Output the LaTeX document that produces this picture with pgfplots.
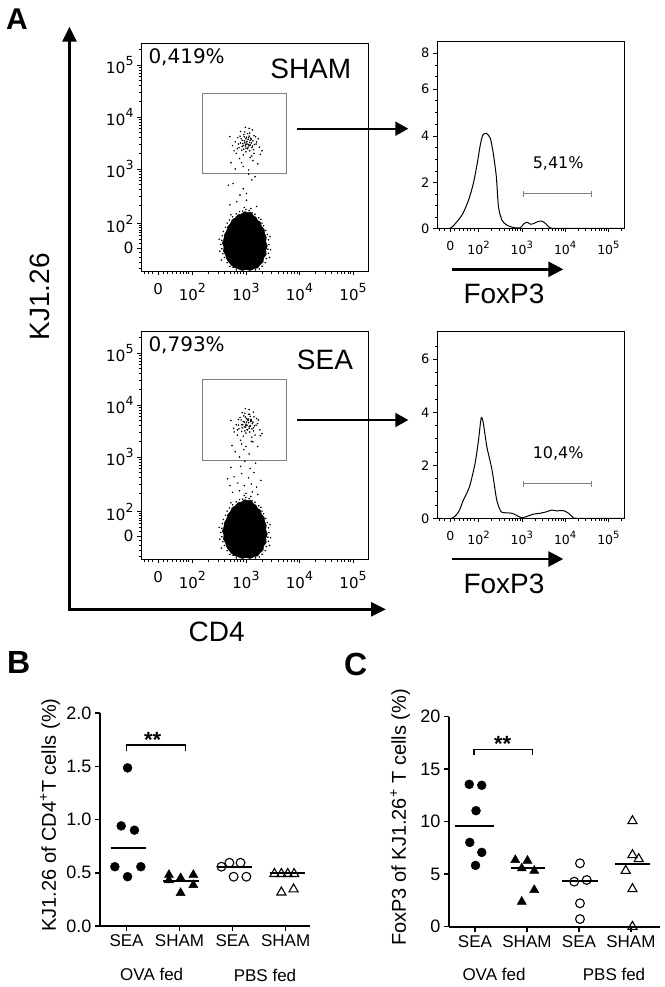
\documentclass[border=0pt]{standalone}
\usepackage{fontspec}
\setmainfont{Liberation Sans}
\newfontfamily\dejavu{DejaVu Sans}
\usepackage{pgfplots}
\pgfplotsset{compat=1.18}
\usetikzlibrary{arrows.meta}
\newcommand\fs[1]{\fontsize{#1}{#1}\selectfont}
\newcommand\tp[1]{10\raisebox{0.5em}{\fs{12.5}#1}}
\newcommand\hp[1]{10\raisebox{0.5em}{\fs{10}#1}}

\pgfplotstableread{
x y
2.98 2.18
3.03 2.16
3.09 2.17
3.13 2.11
3.19 2.07
3.22 2.01
3.27 1.98
3.29 1.90
3.34 1.84
3.35 1.76
3.38 1.69
3.37 1.60
3.40 1.52
3.37 1.44
3.38 1.36
3.33 1.29
3.32 1.21
3.26 1.16
3.22 1.10
3.14 1.08
3.08 1.05
3.00 1.07
2.93 1.05
2.86 1.08
2.80 1.10
2.73 1.15
2.69 1.20
2.64 1.27
2.62 1.35
2.58 1.42
2.59 1.50
2.56 1.58
2.59 1.66
2.60 1.74
2.64 1.81
2.66 1.89
2.71 1.95
2.74 2.02
2.80 2.06
2.85 2.12
2.91 2.13
}\blob

\pgfplotstableread{
x y
3.00 2.22
3.06 2.20
2.94 2.19
3.12 2.16
3.17 2.13
3.24 2.06
3.30 1.96
3.33 1.91
3.37 1.82
3.40 1.74
3.42 1.64
3.43 1.55
3.41 1.46
3.42 1.38
3.38 1.28
3.36 1.20
3.30 1.13
3.25 1.08
3.18 1.06
2.82 1.06
2.76 1.11
2.70 1.13
2.65 1.20
2.60 1.30
2.57 1.37
2.55 1.47
2.53 1.55
2.55 1.63
2.56 1.72
2.58 1.80
2.62 1.88
2.65 1.96
2.69 2.02
2.75 2.08
2.82 2.14
2.88 2.18
2.51 1.42
2.50 1.65
3.45 1.70
3.46 1.45
2.72 2.12
3.28 2.03
2.97 2.26
3.09 2.24
2.54 1.25
3.44 1.30
}\fringe

\pgfplotsset{
  flowdot/.style={scale only axis, width=227pt, height=228pt, anchor=south west,
    xmin=1.04, xmax=5.28, ymin=1.04, ymax=5.42,
    tick pos=left, tick align=outside, major tick length=4pt, minor tick length=2.5pt,
    every tick/.style={black, line width=0.6pt},
    axis line style={line width=0.9pt, black},
    xtick={1.36,2,3,4,5}, xticklabels={0,\tp{2},\tp{3},\tp{4},\tp{5}},
    ytick={1.48,1.95,3,4,5}, yticklabels={0,\tp{2},\tp{3},\tp{4},\tp{5}},
    minor xtick={1.1,1.18,1.26,1.45,1.54,1.62,1.7,1.77,1.83,1.88,1.92,2.301,2.477,2.602,2.699,2.778,2.845,2.903,2.954,3.301,3.477,3.602,3.699,3.778,3.845,3.903,3.954,4.301,4.477,4.602,4.699,4.778,4.845,4.903,4.954},
    minor ytick={1.1,1.2,1.3,1.39,1.57,1.65,1.72,1.78,1.83,1.87,1.91,2.301,2.477,2.602,2.699,2.778,2.845,2.903,2.954,3.301,3.477,3.602,3.699,3.778,3.845,3.903,3.954,4.301,4.477,4.602,4.699,4.778,4.845,4.903,4.954,5.301},
    xticklabel style={font=\dejavu\fs{15}, yshift=-5pt},
    yticklabel style={font=\dejavu\fs{15.5}},
  },
  histo/.style={scale only axis, width=187pt, height=186.6pt, anchor=south west,
    xmin=1.04, xmax=5.36, ymin=0,
    tick pos=left, tick align=outside, major tick length=4pt, minor tick length=2.5pt,
    every tick/.style={black, line width=0.6pt},
    axis line style={line width=0.9pt, black},
    xtick={1.35,2,3,4,5}, xticklabels={0,\hp{2},\hp{3},\hp{4},\hp{5}},
    minor xtick={1.1,1.2,1.45,1.55,1.65,1.74,1.82,1.9,2.301,2.477,2.602,2.699,2.778,2.845,2.903,2.954,3.301,3.477,3.602,3.699,3.778,3.845,3.903,3.954,4.301,4.477,4.602,4.699,4.778,4.845,4.903,4.954,5.301},
    xticklabel style={font=\dejavu\fs{12.5}, yshift=-5pt},
    yticklabel style={font=\dejavu\fs{13}},
  },
  dotplot/.style={scale only axis, anchor=south west, xmin=0.5, ymin=0, clip=false,
    axis lines=left, axis line style={line width=2pt, black, -},
    x axis line style={-}, y axis line style={-},
    tick align=outside, major tick length=5pt,
    every tick/.style={black, line width=1.5pt},
    xtick={1,2,3,4}, xticklabels={SEA,SHAM,SEA,SHAM},
    xticklabel style={font=\fs{17}},
    yticklabel style={font=\fs{18}},
    ylabel style={font=\fs{20}, anchor=center},
  },
  gatedots/.style={only marks, mark=*, mark size=0.55pt, black},
}

\begin{document}
\begin{tikzpicture}[x=1pt,y=1pt]
\path[use as bounding box] (0pt,0pt) rectangle (664pt,-987pt);

% ---------- Panel A: SHAM dot plot ----------
\begin{axis}[flowdot, at={(141pt,-271pt)}]
\addplot[black, fill=black, line width=0.5pt] table {\blob} -- cycle;
\addplot[gatedots] table {\fringe};
\addplot[gatedots] coordinates {
(2.67,2.69) (2.76,2.72) (2.89,2.5) (3.01,2.53) (3.11,2.79) (3.17,2.85) (2.70,2.31) (2.83,2.37) (3.01,2.4) (3.2,2.28) (2.95,2.62) (3.05,2.9)
(2.98,3.5) (3.02,3.53) (3.05,3.47) (2.95,3.45) (3.0,3.58) (3.08,3.55) (2.93,3.55) (3.04,3.42) (3.1,3.5) (2.97,3.62) (3.06,3.63) (2.9,3.5) (3.12,3.44) (3.0,3.4) (3.03,3.68) (2.96,3.38) (3.01,3.52) (3.07,3.51)
(2.8,3.52) (2.85,3.6) (2.75,3.45) (3.2,3.52) (3.18,3.62) (3.25,3.42) (2.82,3.3) (3.15,3.3) (2.88,3.2) (3.08,3.22) (2.72,3.12) (3.22,3.1) (2.95,3.05) (3.05,2.98) (2.8,3.0) (3.12,3.75) (2.9,3.72) (3.3,3.35) (2.7,3.62)
(2.87,3.41) (2.91,3.58) (2.94,3.49) (2.96,3.66) (2.99,3.44) (3.01,3.61) (3.03,3.39) (3.04,3.57) (3.06,3.45) (3.07,3.69) (3.09,3.59) (3.11,3.41) (3.13,3.54) (3.15,3.64) (3.16,3.47) (2.92,3.36) (2.98,3.71) (3.0,3.47) (3.02,3.48) (3.05,3.6) (2.93,3.43) (3.08,3.46) (2.97,3.54) (3.1,3.57) (2.89,3.63) (3.14,3.37) (3.0,3.33) (2.95,3.27) (3.07,3.35) (3.11,3.25) (2.86,3.48) (3.19,3.48) (2.84,3.39) (3.23,3.58) (2.99,3.8) (3.06,3.78) (2.78,3.35) (3.27,3.28) (2.92,3.12) (3.13,3.16)};
\addplot[gray, line width=0.9pt] coordinates {(2.19,2.92) (3.75,2.92) (3.75,4.46) (2.19,4.46)} -- cycle;
\end{axis}

% ---------- Panel A: SEA dot plot ----------
\begin{axis}[flowdot, at={(141pt,-559pt)}]
\addplot[black, fill=black, line width=0.5pt] table {\blob} -- cycle;
\addplot[gatedots] table {\fringe};
\addplot[gatedots] coordinates {
(2.75,2.32) (2.88,2.35) (3.0,2.3) (3.12,2.33) (3.22,2.28) (2.7,2.45) (2.85,2.5) (2.97,2.45) (3.1,2.48) (3.2,2.42) (2.78,2.62) (2.92,2.68) (3.05,2.6) (3.15,2.7) (2.72,2.8) (2.9,2.82) (3.08,2.78) (3.18,2.88) (2.98,2.92) (2.66,2.58) (3.28,2.55)
(3.0,3.63) (3.05,3.66) (3.08,3.6) (2.97,3.58) (3.03,3.72) (3.1,3.7) (2.95,3.68) (3.06,3.55) (3.12,3.64) (2.99,3.77) (3.08,3.78) (2.92,3.62) (3.14,3.56) (3.02,3.52) (3.05,3.82) (2.98,3.5) (3.01,3.67) (3.09,3.68)
(2.82,3.62) (2.86,3.72) (2.77,3.55) (3.22,3.64) (3.2,3.74) (3.26,3.52) (2.84,3.42) (3.17,3.42) (2.9,3.32) (3.1,3.3) (2.74,3.22) (3.22,3.2) (2.96,3.14) (3.06,3.06) (2.8,3.1) (3.14,3.86) (2.93,3.85) (3.3,3.45) (2.72,3.7) (3.0,3.2) (2.88,3.0)
(2.87,3.54) (2.91,3.71) (2.94,3.62) (2.96,3.79) (2.99,3.57) (3.01,3.74) (3.03,3.52) (3.04,3.70) (3.06,3.58) (3.07,3.82) (3.09,3.72) (3.11,3.54) (3.13,3.67) (3.15,3.77) (3.16,3.6) (2.92,3.49) (2.98,3.84) (3.0,3.6) (3.02,3.61) (3.05,3.73) (2.93,3.56) (3.08,3.59) (2.97,3.67) (3.1,3.7) (2.89,3.76) (3.14,3.5) (3.0,3.46) (2.95,3.4) (3.07,3.48) (3.11,3.38) (2.86,3.61) (3.19,3.61) (2.84,3.52) (3.23,3.71) (2.99,3.93) (3.06,3.91) (2.78,3.48) (3.27,3.41) (2.92,3.25) (3.13,3.29)};
\addplot[gray, line width=0.9pt] coordinates {(2.19,2.94) (3.75,2.94) (3.75,4.48) (2.19,4.48)} -- cycle;
\end{axis}

% ---------- Panel A: histograms ----------
\begin{axis}[histo, at={(437pt,-228.3pt)}, ymax=7.97,
  ytick={0,1.95,3.94,5.95,7.48}, yticklabels={0,2,4,6,8},
  minor ytick={0.49,0.98,1.46,2.45,2.94,3.44,4.44,4.94,5.45,6.48,6.98}]
\addplot[black, line width=1pt, smooth, tension=0.45] coordinates {
(1.05,0) (1.34,0) (1.50,0.28) (1.64,0.64) (1.77,1.21) (1.88,1.92) (1.97,2.78) (2.04,3.56) (2.10,3.99) (2.18,4.05) (2.27,3.85) (2.34,3.2) (2.41,2.21) (2.46,0.92) (2.54,0.35) (2.65,0.14) (2.81,0.03) (2.96,0.02) (3.04,0.18) (3.12,0.26) (3.19,0.18) (3.27,0.2) (3.36,0.28) (3.46,0.31) (3.55,0.2) (3.65,0.02) (3.88,0) (5.36,0)};
\addplot[gray, line width=0.8pt, {Bar[width=6pt]}-{Bar[width=6pt]}] coordinates {(3.03,1.47) (4.62,1.47)};
\node[font=\dejavu\fs{16}, anchor=base, inner sep=0] at (axis cs:3.84,2.56) {5,41\%};
\end{axis}

\begin{axis}[histo, at={(437pt,-518.3pt)}, ymax=7.04,
  ytick={0,2,4,6}, yticklabels={0,2,4,6},
  minor ytick={0.5,1,1.5,2.5,3,3.5,4.5,5,5.5,6.5}]
\addplot[black, line width=1pt, smooth, tension=0.45] coordinates {
(1.05,0) (1.38,0) (1.54,0.25) (1.65,0.69) (1.79,1.19) (1.92,2.08) (2.00,2.96) (2.06,3.78) (2.11,3.59) (2.19,2.71) (2.31,1.83) (2.42,0.69) (2.52,0.25) (2.61,0.21) (2.77,0.19) (2.88,0.11) (3.0,0.02) (3.15,0.09) (3.27,0.16) (3.42,0.19) (3.58,0.25) (3.69,0.31) (3.81,0.28) (3.96,0.29) (4.08,0.19) (4.18,0.04) (4.27,0) (5.36,0)};
\addplot[gray, line width=0.8pt, {Bar[width=6pt]}-{Bar[width=6pt]}] coordinates {(3.03,1.3) (4.62,1.3)};
\node[font=\dejavu\fs{16}, anchor=base, inner sep=0] at (axis cs:3.84,2.27) {10,4\%};
\end{axis}

% ---------- Panel A annotations ----------
\node[font=\bfseries\fs{30}, anchor=base west, inner sep=0] at (6pt,-30pt) {A};
\draw[line width=2.7pt, -{Triangle[length=15pt,width=14pt]}] (69.5pt,-609.3pt) -- (69.5pt,-26.7pt);
\draw[line width=2.7pt, -{Triangle[length=15pt,width=14pt]}] (68.2pt,-609.3pt) -- (386pt,-609.3pt);
\draw[line width=2pt, -{Triangle[length=13pt,width=14pt]}] (297.3pt,-128.7pt) -- (408.3pt,-128.7pt);
\draw[line width=2pt, -{Triangle[length=13pt,width=14pt]}] (297.3pt,-420pt) -- (408.3pt,-420pt);
\draw[line width=2.7pt, -{Triangle[length=15pt,width=15pt]}] (451.7pt,-269.3pt) -- (563.3pt,-269.3pt);
\draw[line width=2.7pt, -{Triangle[length=15pt,width=15pt]}] (451.7pt,-559pt) -- (563.3pt,-559pt);
\node[font=\fs{28}, anchor=base, inner sep=0] at (310.8pt,-78.3pt) {SHAM};
\node[font=\fs{28}, anchor=base, inner sep=0] at (325pt,-369.3pt) {SEA};
\node[font=\dejavu\fs{20}, anchor=base west, inner sep=0] at (148.3pt,-63.3pt) {0,419\%};
\node[font=\dejavu\fs{20}, anchor=base west, inner sep=0] at (148.3pt,-351.7pt) {0,793\%};
\node[font=\fs{28}, anchor=base, inner sep=0] at (504pt,-303pt) {FoxP3};
\node[font=\fs{28}, anchor=base, inner sep=0] at (504pt,-593.3pt) {FoxP3};
\node[font=\fs{28}, anchor=base, inner sep=0] at (216.7pt,-641.7pt) {CD4};
\node[font=\fs{28}, rotate=90, anchor=base, inner sep=0] at (49pt,-297pt) {KJ1.26};

% ---------- Panel B ----------
\node[font=\bfseries\fs{32}, anchor=base west, inner sep=0] at (7pt,-673.3pt) {B};
\begin{axis}[dotplot, at={(100pt,-926pt)}, width=210pt, height=213pt, xmax=4.46, ymax=2,
  ytick={0,0.5,1,1.5,2}, yticklabels={0.0,0.5,1.0,1.5,2.0},
  ylabel={KJ1.26 of CD4\textsuperscript{+}T cells (\%)},
  ylabel style={at={(axis description cs:-0.238,0.521)}}]
\addplot[only marks, mark=*, mark size=4.5pt, black] coordinates {
(1.02,1.485) (0.90,0.94) (1.15,0.90) (0.78,0.557) (1.27,0.557) (1.02,0.463)};
\addplot[only marks, mark=triangle*, mark size=5.3pt, black] coordinates {
(1.80,0.48) (1.80,0.43) (2.02,0.45) (2.26,0.48) (2.26,0.385) (2.02,0.31)};
\addplot[only marks, mark=o, mark size=4.4pt, black, mark options={line width=1.1pt}] coordinates {
(2.79,0.557) (2.94,0.594) (3.15,0.594) (3.02,0.463) (3.26,0.463)};
\addplot[only marks, mark=triangle, mark size=5.3pt, black, mark options={line width=1.1pt}] coordinates {
(3.79,0.49) (3.92,0.49) (4.04,0.49) (4.16,0.49) (3.92,0.316) (4.15,0.345)};
\addplot[black, line width=2pt] coordinates {(0.70,0.73) (1.36,0.73)};
\addplot[black, line width=2pt] coordinates {(1.69,0.425) (2.36,0.425)};
\addplot[black, line width=2pt] coordinates {(2.71,0.557) (3.37,0.557)};
\addplot[black, line width=2pt] coordinates {(3.70,0.50) (4.36,0.50)};
\draw[line width=1.5pt] (axis cs:1,1.64) -- (axis cs:1,1.70) -- (axis cs:2.11,1.70) -- (axis cs:2.11,1.64);
\end{axis}
\node[font=\bfseries\fs{22}, anchor=base, inner sep=0] at (152.6pt,-747pt) {**};
\node[font=\fs{17}, anchor=base, inner sep=0] at (151.7pt,-980pt) {OVA fed};
\node[font=\fs{17}, anchor=base, inner sep=0] at (265pt,-981.7pt) {PBS fed};

% ---------- Panel C ----------
\node[font=\bfseries\fs{32}, anchor=base west, inner sep=0] at (344pt,-675pt) {C};
\begin{axis}[dotplot, at={(449pt,-926.7pt)}, width=211pt, height=210pt, xmax=4.56, ymax=20,
  ytick={0,5,10,15,20}, yticklabels={0,5,10,15,20},
  ylabel={FoxP3 of KJ1.26\textsuperscript{+} T cells (\%)},
  ylabel style={at={(axis description cs:-0.232,0.52)}}]
\addplot[only marks, mark=*, mark size=4.5pt, black] coordinates {
(0.89,13.56) (1.13,13.47) (1.02,11.05) (0.90,8.03) (1.13,7.08) (1.01,5.84)};
\addplot[only marks, mark=triangle*, mark size=5.3pt, black] coordinates {
(1.775,6.35) (2.01,6.29) (1.90,5.56) (2.14,5.33) (2.14,3.50) (1.90,2.38)};
\addplot[only marks, mark=o, mark size=4.4pt, black, mark options={line width=1.1pt}] coordinates {
(3.02,6.04) (2.91,4.29) (3.15,4.45) (3.02,2.23) (3.02,0.73)};
\addplot[only marks, mark=triangle, mark size=5.3pt, black, mark options={line width=1.1pt}] coordinates {
(4.03,10.07) (4.03,6.83) (4.15,6.45) (3.90,5.33) (4.03,3.59) (4.03,0)};
\addplot[black, line width=2pt] coordinates {(0.62,9.59) (1.36,9.59)};
\addplot[black, line width=2pt] coordinates {(1.69,5.56) (2.35,5.56)};
\addplot[black, line width=2pt] coordinates {(2.68,4.32) (3.36,4.32)};
\addplot[black, line width=2pt] coordinates {(3.70,5.97) (4.37,5.97)};
\draw[line width=1.5pt] (axis cs:0.98,16.35) -- (axis cs:0.98,16.9) -- (axis cs:2.11,16.9) -- (axis cs:2.11,16.35);
\end{axis}
\node[font=\bfseries\fs{22}, anchor=base, inner sep=0] at (502.7pt,-751.5pt) {**};
\node[font=\fs{17}, anchor=base, inner sep=0] at (494pt,-980pt) {OVA fed};
\node[font=\fs{17}, anchor=base, inner sep=0] at (614pt,-980pt) {PBS fed};
\end{tikzpicture}
\end{document}
